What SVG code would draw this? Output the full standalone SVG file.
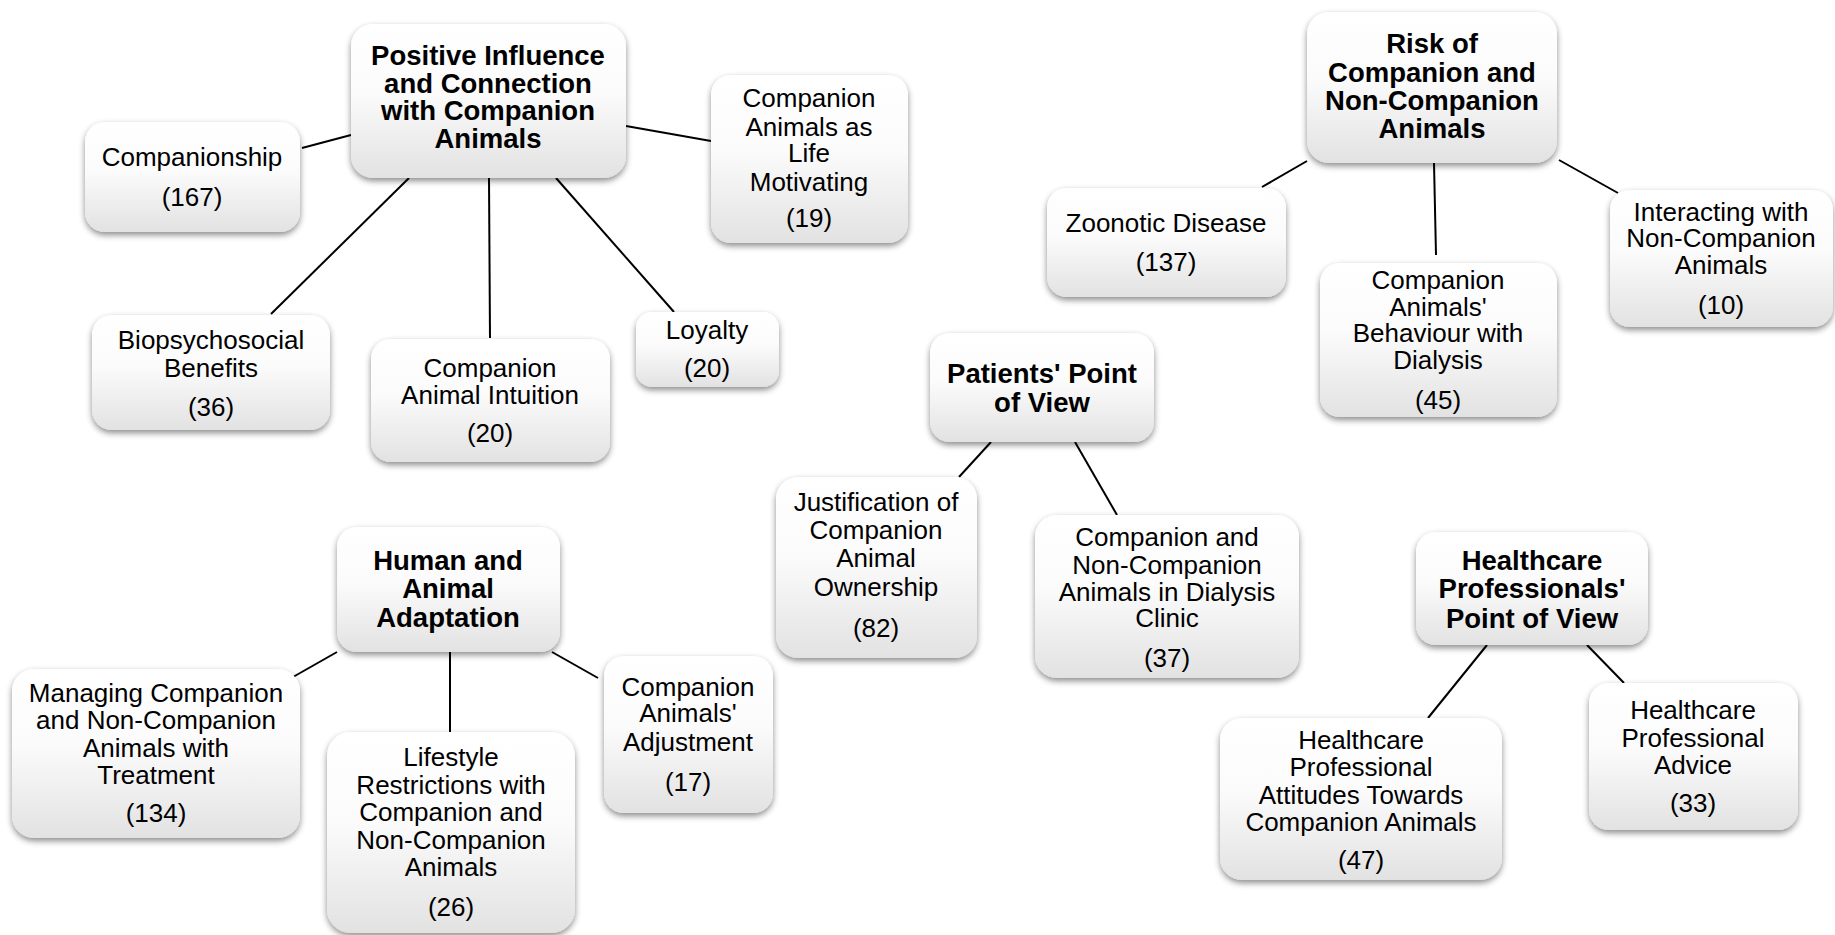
<svg xmlns="http://www.w3.org/2000/svg" width="1835" height="935" viewBox="0 0 1835 935">
<defs>
<linearGradient id="g" x1="0" y1="0" x2="0" y2="1">
<stop offset="0" stop-color="#ffffff"/>
<stop offset="0.45" stop-color="#fbfbfb"/>
<stop offset="1" stop-color="#e2e2e2"/>
</linearGradient>
<filter id="sh" x="-10%" y="-10%" width="120%" height="125%">
<feDropShadow dx="0" dy="3" stdDeviation="3" flood-color="#000" flood-opacity="0.45"/>
</filter>
</defs>
<style>
rect.b{fill:url(#g);filter:url(#sh)}
text{font-family:"Liberation Sans",Arial,sans-serif;font-size:26px;fill:#000;text-anchor:middle}
text.h{font-weight:bold;font-size:27.5px}
#connectors line{stroke:#000;stroke-width:2}
</style>
<rect width="1835" height="935" fill="#fff"/>
<g id="connectors">
<line x1="351" y1="135" x2="302" y2="148"/>
<line x1="626" y1="126" x2="711" y2="141"/>
<line x1="409" y1="178" x2="271" y2="314"/>
<line x1="489" y1="178" x2="490" y2="338"/>
<line x1="556" y1="178" x2="674" y2="312"/>
<line x1="1307" y1="161" x2="1262" y2="187"/>
<line x1="1434" y1="163" x2="1436" y2="255"/>
<line x1="1559" y1="160" x2="1618" y2="193"/>
<line x1="991" y1="442" x2="959" y2="477"/>
<line x1="1075" y1="442" x2="1117" y2="515"/>
<line x1="1487" y1="645" x2="1428" y2="718"/>
<line x1="1587" y1="645" x2="1624" y2="683"/>
<line x1="337" y1="652" x2="293" y2="677"/>
<line x1="450" y1="652" x2="450" y2="732"/>
<line x1="552" y1="652" x2="598" y2="678"/>
</g>
<g id="positive">
<rect class="b" x="351" y="24" width="275" height="154" rx="22"/>
<text class="h" x="488" y="65">Positive Influence</text>
<text class="h" x="488" y="93">and Connection</text>
<text class="h" x="488" y="120">with Companion</text>
<text class="h" x="488" y="148">Animals</text>
</g>
<g id="companionship">
<rect class="b" x="85" y="122" width="215" height="110" rx="20"/>
<text x="192" y="166">Companionship</text>
<text x="192" y="206">(167)</text>
</g>
<g id="life-motivating">
<rect class="b" x="711" y="75" width="197" height="168" rx="20"/>
<text x="809" y="107">Companion</text>
<text x="809" y="136">Animals as</text>
<text x="809" y="162">Life</text>
<text x="809" y="191">Motivating</text>
<text x="809" y="227">(19)</text>
</g>
<g id="biopsychosocial">
<rect class="b" x="92" y="315" width="238" height="115" rx="20"/>
<text x="211" y="349">Biopsychosocial</text>
<text x="211" y="377">Benefits</text>
<text x="211" y="416">(36)</text>
</g>
<g id="intuition">
<rect class="b" x="371" y="339" width="239" height="123" rx="20"/>
<text x="490" y="377">Companion</text>
<text x="490" y="404">Animal Intuition</text>
<text x="490" y="442">(20)</text>
</g>
<g id="loyalty">
<rect class="b" x="636" y="312" width="143" height="75" rx="16"/>
<text x="707" y="339">Loyalty</text>
<text x="707" y="377">(20)</text>
</g>
<g id="risk">
<rect class="b" x="1307" y="12" width="250" height="151" rx="22"/>
<text class="h" x="1432" y="53">Risk of</text>
<text class="h" x="1432" y="82">Companion and</text>
<text class="h" x="1432" y="110">Non-Companion</text>
<text class="h" x="1432" y="138">Animals</text>
</g>
<g id="zoonotic">
<rect class="b" x="1047" y="188" width="239" height="109" rx="20"/>
<text x="1166" y="232">Zoonotic Disease</text>
<text x="1166" y="271">(137)</text>
</g>
<g id="behaviour">
<rect class="b" x="1320" y="263" width="237" height="154" rx="20"/>
<text x="1438" y="289">Companion</text>
<text x="1438" y="316">Animals'</text>
<text x="1438" y="342">Behaviour with</text>
<text x="1438" y="369">Dialysis</text>
<text x="1438" y="409">(45)</text>
</g>
<g id="interacting">
<rect class="b" x="1610" y="190" width="223" height="137" rx="20"/>
<text x="1721" y="221">Interacting with</text>
<text x="1721" y="247">Non-Companion</text>
<text x="1721" y="274">Animals</text>
<text x="1721" y="314">(10)</text>
</g>
<g id="patients">
<rect class="b" x="930" y="333" width="224" height="109" rx="20"/>
<text class="h" x="1042" y="383">Patients' Point</text>
<text class="h" x="1042" y="412">of View</text>
</g>
<g id="justification">
<rect class="b" x="776" y="477" width="201" height="181" rx="22"/>
<text x="876" y="511">Justification of</text>
<text x="876" y="539">Companion</text>
<text x="876" y="567">Animal</text>
<text x="876" y="596">Ownership</text>
<text x="876" y="637">(82)</text>
</g>
<g id="dialysis-clinic">
<rect class="b" x="1035" y="515" width="264" height="163" rx="22"/>
<text x="1167" y="546">Companion and</text>
<text x="1167" y="574">Non-Companion</text>
<text x="1167" y="601">Animals in Dialysis</text>
<text x="1167" y="627">Clinic</text>
<text x="1167" y="667">(37)</text>
</g>
<g id="hp-view">
<rect class="b" x="1416" y="532" width="232" height="113" rx="20"/>
<text class="h" x="1532" y="570">Healthcare</text>
<text class="h" x="1532" y="598">Professionals'</text>
<text class="h" x="1532" y="628">Point of View</text>
</g>
<g id="hp-attitudes">
<rect class="b" x="1220" y="718" width="282" height="162" rx="22"/>
<text x="1361" y="749">Healthcare</text>
<text x="1361" y="776">Professional</text>
<text x="1361" y="804">Attitudes Towards</text>
<text x="1361" y="831">Companion Animals</text>
<text x="1361" y="869">(47)</text>
</g>
<g id="hp-advice">
<rect class="b" x="1589" y="683" width="209" height="147" rx="20"/>
<text x="1693" y="719">Healthcare</text>
<text x="1693" y="747">Professional</text>
<text x="1693" y="774">Advice</text>
<text x="1693" y="812">(33)</text>
</g>
<g id="human-adaptation">
<rect class="b" x="337" y="527" width="223" height="125" rx="20"/>
<text class="h" x="448" y="570">Human and</text>
<text class="h" x="448" y="598">Animal</text>
<text class="h" x="448" y="627">Adaptation</text>
</g>
<g id="managing">
<rect class="b" x="12" y="669" width="288" height="169" rx="22"/>
<text x="156" y="702">Managing Companion</text>
<text x="156" y="729">and Non-Companion</text>
<text x="156" y="757">Animals with</text>
<text x="156" y="784">Treatment</text>
<text x="156" y="822">(134)</text>
</g>
<g id="lifestyle">
<rect class="b" x="327" y="732" width="248" height="201" rx="24"/>
<text x="451" y="766">Lifestyle</text>
<text x="451" y="794">Restrictions with</text>
<text x="451" y="821">Companion and</text>
<text x="451" y="849">Non-Companion</text>
<text x="451" y="876">Animals</text>
<text x="451" y="916">(26)</text>
</g>
<g id="adjustment">
<rect class="b" x="604" y="656" width="169" height="157" rx="20"/>
<text x="688" y="696">Companion</text>
<text x="688" y="722">Animals'</text>
<text x="688" y="751">Adjustment</text>
<text x="688" y="791">(17)</text>
</g>
</svg>
